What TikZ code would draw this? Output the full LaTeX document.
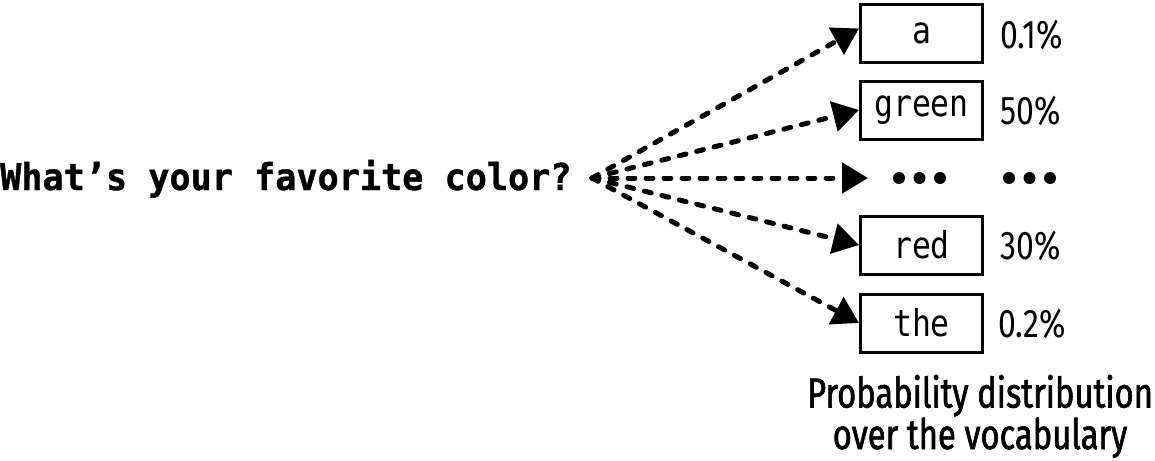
\documentclass[tikz,border=0pt]{standalone}
\usepackage{fontspec}
\usetikzlibrary{arrows.meta}
\newfontfamily\qfont[FakeStretch=0.95,FakeBold=1]{DejaVu Sans Mono}
\newfontfamily\boxfont[FakeStretch=0.85]{DejaVu Sans Mono}
\newfontfamily\capfont[FakeStretch=0.78,FakeBold=1.5]{Fira Sans}
\newfontfamily\pctfont[FakeStretch=0.8]{Fira Sans}
\begin{document}
\begin{tikzpicture}[x=1pt,y=-1pt,
  tok/.style={draw,line width=3pt,minimum width=122pt,minimum height=58pt,inner sep=0pt,font=\boxfont\fontsize{37}{40}\selectfont},
  pct/.style={anchor=west,inner sep=0pt,font=\pctfont\fontsize{40}{44}\selectfont},
  capt/.style={anchor=base,inner sep=0pt,align=center,font=\capfont\fontsize{42}{37}\selectfont},
  conn/.style={line width=5pt,line cap=round,dash pattern=on 7pt off 11pt,-{Triangle[length=26pt,width=30pt,line cap=butt]}},
  dot/.style={circle,fill,inner sep=0pt,minimum size=12pt}]
\useasboundingbox (0,0) rectangle (1155,460);
\node[anchor=base west,inner sep=0pt,font=\qfont\bfseries\fontsize{37}{40}\selectfont] (q) at (0,190) {What’s your favorite color?};
\coordinate (src) at (592,178);
\node[tok] (a) at (921.5,33.5) {a};
\node[tok] (green) at (921.5,110) {green};
\node[tok] (red) at (921.5,245) {red};
\node[tok] (the) at (921.5,323) {the};
\coordinate (mid) at (868,178);
\node[dot] (d1) at (899,178) {};
\node[dot] (d2) at (919.5,178) {};
\node[dot] (d3) at (940,178) {};
\node[dot] (e1) at (1009,178) {};
\node[dot] (e2) at (1029.5,178) {};
\node[dot] (e3) at (1050,178) {};
\node[pct] (pa) at (1000,35) {0.1\%};
\node[pct] (pg) at (1000,111) {50\%};
\node[pct] (pr) at (1000,246) {30\%};
\node[pct] (pt) at (998,324) {0.2\%};
\node[capt] (cap) at (980,449) {Probability distribution\\over the vocabulary};
\draw[conn] (src) -- ([yshift=5pt]a.west);
\draw[conn] (src) -- (green.west);
\draw[conn] (src) -- (mid);
\draw[conn] (src) -- (red.west);
\draw[conn] (src) -- (the.west);
\end{tikzpicture}
\end{document}
